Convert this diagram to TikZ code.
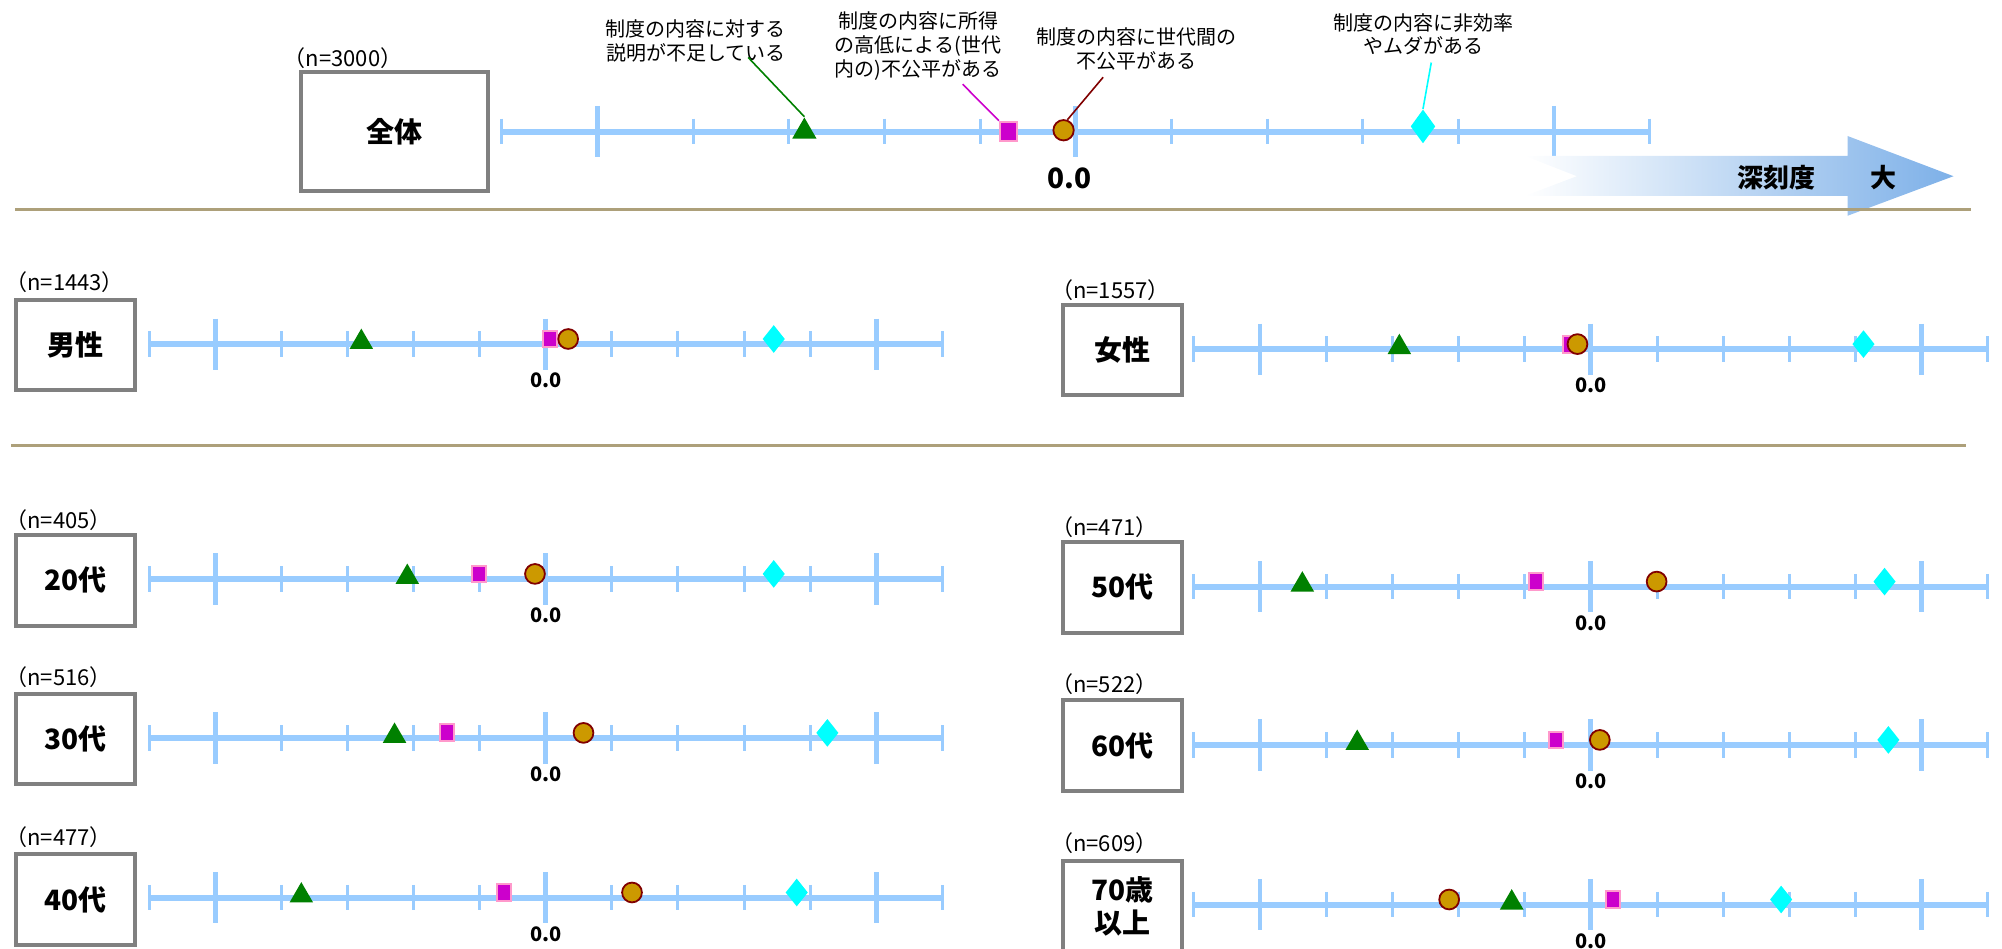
\documentclass[tikz,border=0pt]{standalone}
\usepackage{fontspec}
\setmainfont{Noto Sans CJK JP}
\usetikzlibrary{shapes.geometric,calc}

\definecolor{axisblue}{HTML}{99CCFF}
\definecolor{mkgreen}{HTML}{008000}
\definecolor{mkmagenta}{HTML}{CC00CC}
\definecolor{mkpink}{HTML}{FF99CC}
\definecolor{mkgold}{HTML}{CC9900}
\definecolor{mkred}{HTML}{800000}
\definecolor{mkcyan}{HTML}{00FFFF}
\definecolor{boxgray}{HTML}{808080}
\definecolor{rulebrown}{HTML}{ADA07A}
\definecolor{arrowblue}{HTML}{7DB0E8}

\tikzset{
  axisline/.style={axisblue, line width=3pt},
  majortick/.style={axisblue, line width=2.4pt},
  minortick/.style={axisblue, line width=1.5pt},
  groupbox/.style={draw=boxgray, line width=2pt, fill=white, inner sep=0pt,
    minimum width=59.3pt, minimum height=45.2pt, align=center,
    font=\fontsize{14}{16.6}\selectfont\bfseries},
  nlabel/.style={anchor=west, inner sep=0pt, font=\fontsize{11}{13}\selectfont},
  zerolabel/.style={inner sep=0pt, font=\fontsize{10}{12}\selectfont\bfseries},
  callout/.style={align=center, inner sep=0pt, font=\fontsize{10}{11.8}\selectfont},
  arrowtext/.style={inner sep=0pt, font=\fontsize{13}{15}\selectfont\bfseries},
  rule/.style={rulebrown, line width=1.4pt},
  tri/.style={regular polygon, regular polygon sides=3, fill=mkgreen, inner sep=0pt, minimum size=13.6pt},
  sq/.style={rectangle, fill=mkmagenta, draw=mkpink, line width=1pt, inner sep=0pt, minimum width=7pt, minimum height=8.4pt},
  cir/.style={circle, fill=mkgold, draw=mkred, line width=0.9pt, inner sep=0pt, minimum size=9.9pt},
  dia/.style={diamond, fill=mkcyan, inner sep=0pt, minimum width=11.2pt, minimum height=14pt},
}

% axis with ticks and the 0.0 label: [label style]{name}{left}{right}{y}
\newcommand{\scoreaxis}[5][]{%
  \draw[axisline] (#3,#5) -- (#4,#5);
  \foreach \k in {0,2,3,4,5,7,8,9,10,12}
    \draw[minortick] ({#3+\k*(#4-#3)/12},#5-10) -- ({#3+\k*(#4-#3)/12},#5+10);
  \foreach \k in {1,6,11}
    \draw[majortick] ({#3+\k*(#4-#3)/12},#5-20) -- ({#3+\k*(#4-#3)/12},#5+20);
  \node[zerolabel,#1] (#2-zero) at ({(#3+#4)/2},#5+28.5) {0.0};
}

% markers: {name}{axis y}{triangle}{square}{circle}{diamond}
\newcommand{\panelmarks}[6]{%
  \node[tri] (#1-tri) at (#3,#2-1.5) {};
  \node[sq] (#1-sq) at (#4,#2-4) {};
  \node[cir] (#1-cir) at (#5,#2-4) {};
  \node[dia] (#1-dia) at (#6,#2-4) {};
}

\begin{document}
\begin{tikzpicture}[x=0.6384pt,y=-0.6384pt]
\useasboundingbox (0,0) rectangle (1568,743);
\clip (0,0) rectangle (1568,743);

% whole sample
\scoreaxis[font=\fontsize{14}{16}\selectfont\bfseries, xshift=-2.9pt, yshift=-5.4pt]{all}{393}{1292}{103}

\node[tri, minimum size=14pt] (all-tri) at (630,103) {};
\node[sq, minimum width=8.8pt, minimum height=9.8pt] (all-sq) at (790,103) {};
\node[cir, minimum size=10.2pt] (all-cir) at (833,102) {};
\node[dia, minimum width=12.4pt, minimum height=17pt] (all-dia) at (1114.5,99) {};

\node[callout] (lbl-explain) at (545,32) {制度の内容に対する\\説明が不足している};
\node[callout] (lbl-income) at (719,36) {制度の内容に所得\\の高低による(世代\\内の)不公平がある};
\node[callout] (lbl-gen) at (890,38.5) {制度の内容に世代間の\\不公平がある};
\node[callout] (lbl-waste) at (1115,27) {制度の内容に非効率\\やムダがある};

\draw[mkgreen, line width=0.8pt] ($(lbl-explain)+(41,13)$) -- (all-tri.corner 1);
\draw[mkmagenta, line width=0.8pt] ($(lbl-income)+(35,30)$) -- (all-sq.north west);
\draw[mkred, line width=0.8pt] ($(lbl-gen)+(-26,22)$) -- (all-cir.70);
\draw[mkcyan, line width=0.8pt] ($(lbl-waste)+(6,22)$) -- (all-dia.north);

\node[groupbox, minimum width=93.8pt, minimum height=59.3pt] (box-all) at (309,103) {全体};
\node[nlabel] (n-all) at (222,45.5) {（n=3000）};

% severity arrow
\shade[left color=white, right color=arrowblue] (1194,122) -- (1447,122) -- (1447,106.5)
  -- (1530,138) -- (1447,169) -- (1447,153.5) -- (1194,153.5) -- (1235,138) -- cycle;
\node[arrowtext] (depth) at (1391,139) {深刻度};
\node[arrowtext] (large) at (1475,139) {大};

\draw[rule] (12,164) -- (1544,164);
\draw[rule] (9,349) -- (1540,349);

% gender
\scoreaxis{male}{117}{738}{269.5}
\panelmarks{male}{269.5}{283}{431}{445}{606}
\node[groupbox] (box-male) at (59,270) {男性};
\node[nlabel] (n-male) at (4,221) {（n=1443）};

\scoreaxis{female}{935}{1557}{273.5}
\panelmarks{female}{273.5}{1096}{1230}{1235.5}{1459.5}
\node[groupbox] (box-female) at (879,274) {女性};
\node[nlabel] (n-female) at (823,227) {（n=1557）};

% age
\scoreaxis{age20}{117}{738}{453.5}
\panelmarks{age20}{453.5}{319}{375}{419}{606}
\node[groupbox] (box-age20) at (59,454.5) {20代};
\node[nlabel] (n-age20) at (4,407) {（n=405）};

\scoreaxis{age30}{117}{738}{578}
\panelmarks{age30}{578}{309}{350}{457}{648}
\node[groupbox] (box-age30) at (59,579) {30代};
\node[nlabel] (n-age30) at (4,530) {（n=516）};

\scoreaxis{age40}{117}{738}{703}
\panelmarks{age40}{703}{236}{395}{495}{624}
\node[groupbox] (box-age40) at (59,704.5) {40代};
\node[nlabel] (n-age40) at (4,656) {（n=477）};

\scoreaxis{age50}{935}{1557}{459.5}
\panelmarks{age50}{459.5}{1020}{1203}{1297.5}{1476}
\node[groupbox] (box-age50) at (879,460) {50代};
\node[nlabel] (n-age50) at (823,413) {（n=471）};

\scoreaxis{age60}{935}{1557}{583.5}
\panelmarks{age60}{583.5}{1063}{1219}{1253}{1479}
\node[groupbox] (box-age60) at (879,584) {60代};
\node[nlabel] (n-age60) at (823,536) {（n=522）};

\scoreaxis{age70}{935}{1557}{708.5}
\panelmarks{age70}{708.5}{1184}{1263}{1135}{1395}
\node[groupbox] (box-age70) at (879,710) {70歳\\以上};
\node[nlabel] (n-age70) at (823,660) {（n=609）};

\end{tikzpicture}
\end{document}
